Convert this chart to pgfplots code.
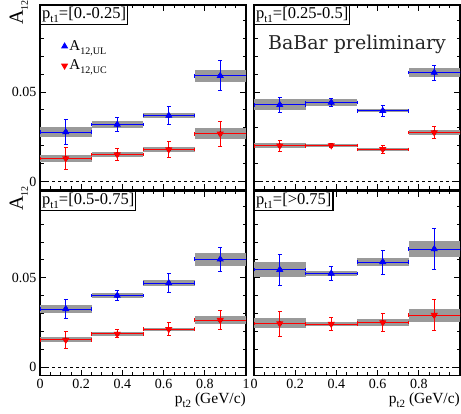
\documentclass[border=0pt]{standalone}
\usepackage{fontspec}
\setmainfont{Liberation Serif}
\newfontfamily\dejaserif{DejaVu Serif}
\usepackage{pgfplots}
\usepackage{pgfplotstable}
\pgfplotsset{compat=1.18}
\definecolor{sysgray}{HTML}{9A9A9A}

% x  A12,UL (value, stat, sys)  A12,UC (value, stat, sys)
\pgfplotstableread{
x ul eul sul uc euc suc
0.125 0.0276 0.0070 0.0028 0.0129 0.0060 0.0022
0.375 0.0318 0.0037 0.0018 0.0151 0.0032 0.0013
0.625 0.0368 0.0051 0.0013 0.0179 0.0044 0.0013
0.875 0.0590 0.0083 0.0034 0.0267 0.0070 0.0030
}\tabA
\pgfplotstableread{
x ul eul sul uc euc suc
0.125 0.0428 0.0041 0.0031 0.0200 0.0031 0.0015
0.375 0.0441 0.0022 0.0017 0.0202 0.0012 0.0010
0.625 0.0395 0.0029 0.0009 0.0180 0.0024 0.0009
0.875 0.0608 0.0042 0.0023 0.0274 0.0034 0.0015
}\tabB
\pgfplotstableread{
x ul eul sul uc euc suc
0.125 0.0325 0.0053 0.0021 0.0152 0.0046 0.0014
0.375 0.0400 0.0029 0.0013 0.0186 0.0022 0.0010
0.625 0.0470 0.0053 0.0017 0.0212 0.0037 0.0008
0.875 0.0603 0.0067 0.0035 0.0263 0.0053 0.0024
}\tabC
\pgfplotstableread{
x ul eul sul uc euc suc
0.125 0.0545 0.0087 0.0041 0.0244 0.0070 0.0028
0.375 0.0524 0.0040 0.0014 0.0241 0.0034 0.0011
0.625 0.0588 0.0067 0.0024 0.0250 0.0052 0.0020
0.875 0.0660 0.0115 0.0043 0.0291 0.0086 0.0036
}\tabD

\newcommand{\sub}[1]{\raisebox{-0.55ex}{\fontsize{10}{10}\selectfont #1}}
\newcommand{\subl}[1]{\raisebox{-0.55ex}{\fontsize{11}{11}\selectfont #1}}

\tikzset{
  ptlabel/.style={draw, line width=1.3pt, fill=white, anchor=north west, inner sep=1.5pt, font=\fontsize{16.5}{16.5}\selectfont},
}
\pgfplotsset{
  panel/.style={
    scale only axis, width=206pt,
    xmin=0, xmax=1, ymin=-0.0047, ymax=0.0985,
    xtick={0,0.2,0.4,0.6,0.8,1},
    minor xtick={0.05,0.1,0.15,0.25,0.3,0.35,0.45,0.5,0.55,0.65,0.7,0.75,0.85,0.9,0.95},
    ytick={0,0.05},
    minor ytick={0.01,0.02,0.03,0.04,0.06,0.07,0.08,0.09},
    major tick length=6pt, minor tick length=3.5pt,
    tick style={black, line width=0.8pt},
    axis line style={line width=1.2pt},
    scaled y ticks=false,
    yticklabel style={/pgf/number format/fixed, /pgf/number format/precision=2},
    xticklabel style={/pgf/number format/fixed},
    tick label style={font=\fontsize{14}{14}\selectfont},
    /pgf/number format/assume math mode=true,
    ylabel={A\sub{12}},
    ylabel style={font=\fontsize{20}{20}\selectfont, at={(rel axis cs:-0.058,1.027)}, anchor=south east, inner sep=0pt},
    xlabel style={font=\fontsize{15.5}{15.5}\selectfont, at={(rel axis cs:1,0)}, anchor=north east, inner sep=0pt, yshift=-17pt},
  },
  sysbox/.style={only marks, mark=none, forget plot,
    error bars/.cd, y dir=both, y explicit, error mark=none,
    error bar style={line width=51.5pt, color=sysgray}},
  pts/.style={only marks, line width=0.9pt, mark size=3.3pt,
    error bars/.cd, x dir=both, x fixed=0.125, y dir=both, y explicit,
    error bar style={line width=0.9pt},
    error mark options={rotate=90, mark size=1.8pt, line width=0.9pt}},
}

\begin{document}
\begin{tikzpicture}
\useasboundingbox (0,0) rectangle (461pt,-414pt);

% pt1 = [0.-0.25]
\begin{axis}[panel, height=185pt, at={(40pt,-5pt)}, anchor=north west,
    xticklabels={},
    legend style={draw=none, fill=none, at={(rel axis cs:0.09,0.83)}, anchor=north west,
      font=\fontsize{15}{15}\selectfont, row sep=4pt},
    legend cell align=left]
\addplot[sysbox] table[x=x, y=ul, y error=sul] {\tabA};
\addplot[sysbox] table[x=x, y=uc, y error=suc] {\tabA};
\addplot[black, dashed, forget plot] coordinates {(0,0) (1,0)};
\addplot[blue, mark=triangle*, pts] table[x=x, y=ul, y error=eul] {\tabA};
\addplot[red, mark=triangle*, mark options={rotate=180}, pts] table[x=x, y=uc, y error=euc] {\tabA};
\legend{A\sub{12,UL}, A\sub{12,UC}}
\node[ptlabel] at (rel axis cs:0,1) {p\subl{t1}=[0.-0.25]};
\end{axis}

% pt1 = [0.25-0.5]
\begin{axis}[panel, height=185pt, at={(254pt,-5pt)}, anchor=north west,
    xticklabels={}, yticklabels={}, ylabel={}]
\addplot[sysbox] table[x=x, y=ul, y error=sul] {\tabB};
\addplot[sysbox] table[x=x, y=uc, y error=suc] {\tabB};
\addplot[black, dashed, forget plot] coordinates {(0,0) (1,0)};
\addplot[blue, mark=triangle*, pts] table[x=x, y=ul, y error=eul] {\tabB};
\addplot[red, mark=triangle*, mark options={rotate=180}, pts] table[x=x, y=uc, y error=euc] {\tabB};
\node[ptlabel] at (rel axis cs:0,1) {p\subl{t1}=[0.25-0.5]};
\node[anchor=base, text=black!85, font=\dejaserif\fontsize{19}{19}\selectfont] at (rel axis cs:0.5,0.757) {BaBar preliminary};
\end{axis}

% pt1 = [0.5-0.75]
\begin{axis}[panel, height=184.5pt, at={(40pt,-191pt)}, anchor=north west,
    xlabel={p\subl{t2} (GeV/c)}]
\addplot[sysbox] table[x=x, y=ul, y error=sul] {\tabC};
\addplot[sysbox] table[x=x, y=uc, y error=suc] {\tabC};
\addplot[black, dashed, forget plot] coordinates {(0,0) (1,0)};
\addplot[blue, mark=triangle*, pts] table[x=x, y=ul, y error=eul] {\tabC};
\addplot[red, mark=triangle*, mark options={rotate=180}, pts] table[x=x, y=uc, y error=euc] {\tabC};
\node[ptlabel] at (rel axis cs:0,1) {p\subl{t1}=[0.5-0.75]};
\end{axis}

% pt1 = [>0.75]
\begin{axis}[panel, height=184.5pt, at={(254pt,-191pt)}, anchor=north west,
    xticklabels={0,0.2,0.4,0.6,0.8,{}},
    yticklabels={}, ylabel={}, xlabel={p\subl{t2} (GeV/c)}]
\addplot[sysbox] table[x=x, y=ul, y error=sul] {\tabD};
\addplot[sysbox] table[x=x, y=uc, y error=suc] {\tabD};
\addplot[black, dashed, forget plot] coordinates {(0,0) (1,0)};
\addplot[blue, mark=triangle*, pts] table[x=x, y=ul, y error=eul] {\tabD};
\addplot[red, mark=triangle*, mark options={rotate=180}, pts] table[x=x, y=uc, y error=euc] {\tabD};
\node[ptlabel] at (rel axis cs:0,1) {p\subl{t1}=[>0.75]};
\end{axis}
\end{tikzpicture}
\end{document}
